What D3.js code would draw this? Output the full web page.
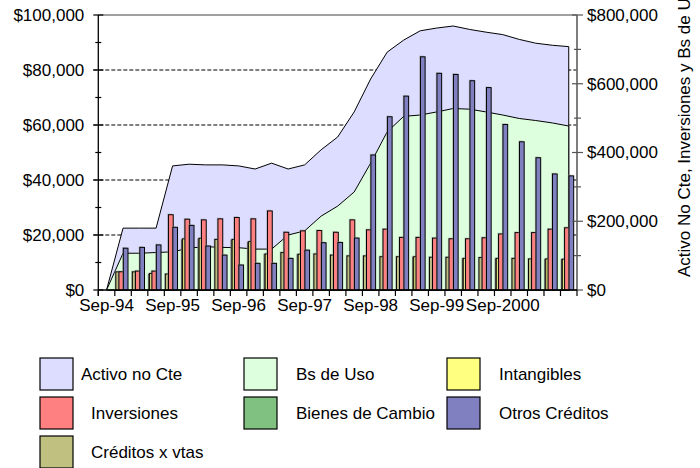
<!DOCTYPE html>
<html><head><meta charset="utf-8">
<script src="https://cdn.jsdelivr.net/npm/d3@7"></script>
<style>
body{margin:0;background:#fff;}
text{font-family:"Liberation Sans",Arial,sans-serif;fill:#000;}
</style></head>
<body><svg id="c" width="700" height="468"></svg>
<script>
const categories = ["Sep-94","Dic-94","Mar-95","Jun-95","Sep-95","Dic-95","Mar-96","Jun-96","Sep-96","Dic-96","Mar-97","Jun-97","Sep-97","Dic-97","Mar-98","Jun-98","Sep-98","Dic-98","Mar-99","Jun-99","Sep-99","Dic-99","Mar-2000","Jun-2000","Sep-2000","Dic-2000","Mar-01","Jun-01","Sep-01"];
const tickLabels = ["Sep-94","Sep-95","Sep-96","Sep-97","Sep-98","Sep-99","Sep-2000"];
// secondary axis series ($)
const activoNoCte = [0,180000,180000,180000,361000,366000,364000,364000,361000,352000,369000,352000,364000,408000,445000,518000,614000,692000,727000,754000,762000,768000,758000,750000,743000,729000,718000,712000,708000];
const bsDeUso = [0,107000,107000,109000,111000,122000,126000,124000,123000,119000,119000,160000,172000,215000,244000,285000,369000,460000,505000,509000,518000,528000,526000,518000,509000,499000,493000,486000,477000];
const inversiones = [0,53000,55000,55000,219000,206000,204000,207000,211000,207000,230000,168000,172000,173000,168000,204000,175000,177000,153000,153000,151000,149000,149000,152000,163000,167000,167000,177000,181000];
// primary axis series ($)
const creditosXVtas = [0,6600,6600,5700,5800,18200,18500,18400,18100,17300,12900,13600,12800,13100,12700,12400,12400,12100,12100,11900,11900,11900,11300,11800,11300,11500,11300,11100,11000];
const bienesDeCambio = [0,0,0,0,0,0,0,0,0,0,0,0,0,0,0,0,0,0,0,0,0,0,0,0,0,0,0,0,0];
const intangibles = [0,0,0,6000,0,18600,18800,0,18400,17600,13100,0,13000,0,0,0,0,0,0,12100,0,0,11500,0,11500,0,0,11300,11200];
const otrosCreditos = [0,15200,15500,16400,22800,23500,16000,12700,9100,9700,9700,11500,14500,17200,17300,18900,49100,63000,70500,84800,78800,78400,76100,73600,60200,53900,48100,42200,41500];
const leftTicks = [0,20000,40000,60000,80000,100000];
const rightTicks = [0,200000,400000,600000,800000];

const svg = d3.select("#c");
svg.append("rect").attr("width",700).attr("height",468).attr("fill","#fff");
const L = 98.3, R = 577, T = 15, B = 290;
const FS = "17px";
const x = d3.scaleBand().domain(categories).range([L,R]).padding(0);
const yL = d3.scaleLinear().domain([0,100000]).range([B,T]);
const yR = d3.scaleLinear().domain([0,800000]).range([B,T]);
const cx = (d,i)=> x(categories[i]) + x.bandwidth()/2;

// gridlines (behind)
svg.append("g").selectAll("line").data([20000,40000,60000,80000]).join("line")
  .attr("x1",L-5).attr("x2",R).attr("y1",d=>yL(d)).attr("y2",d=>yL(d))
  .attr("stroke","#000").attr("stroke-width",1).attr("stroke-dasharray","4,2");
// top border
svg.append("line").attr("x1",L).attr("x2",R).attr("y1",yL(100000)).attr("y2",yL(100000)).attr("stroke","#808080").attr("stroke-width",1.3);

// areas
const area = d3.area().x(cx).y0(yR(0)).y1(d=>yR(d));
svg.append("path").datum(activoNoCte).attr("d",area).attr("fill","#DDDDFF").attr("stroke","#000").attr("stroke-width",1);
svg.append("path").datum(bsDeUso).attr("d",area).attr("fill","#DDFFDD").attr("stroke","#000").attr("stroke-width",1);

// bars
const barSeries = [
  {v:creditosXVtas, y:yL, off:1.0, w:4.2, c:"#C0C080"},
  {v:bienesDeCambio, y:yL, off:1.4, w:4.0, c:"#80C080"},
  {v:intangibles, y:yL, off:1.8, w:3.6, c:"#FFFF80"},
  {v:inversiones, y:yR, off:4.1, w:4.8, c:"#FF8080"},
  {v:otrosCreditos, y:yL, off:8.5, w:4.7, c:"#8080C0"}
];
barSeries.forEach(s=>{
  const g = svg.append("g");
  const data = s.v.map((v,i)=>({v,i})).filter(d=>d.v>0);
  g.selectAll("rect.sh").data(data).join("rect").attr("class","sh")
    .attr("x",d=>x(categories[d.i])+s.off-1.2).attr("y",d=>s.y(d.v)-1.2)
    .attr("width",s.w).attr("height",d=>B-s.y(d.v)).attr("fill","#999").attr("opacity",0.5);
  g.selectAll("rect.b").data(data).join("rect").attr("class","b")
    .attr("x",d=>x(categories[d.i])+s.off).attr("y",d=>s.y(d.v))
    .attr("width",s.w).attr("height",d=>B-s.y(d.v)).attr("fill",s.c).attr("stroke","#000").attr("stroke-width",1);
});

// left axis
const la = svg.append("g").attr("transform",`translate(${L},0)`)
  .call(d3.axisLeft(yL).tickValues(leftTicks).tickSize(0).tickPadding(14).tickFormat(d3.format("$,")));
la.select(".domain").remove();
la.selectAll("text").style("font-size",FS).style("font-family","Liberation Sans, Arial");
svg.append("line").attr("x1",L).attr("x2",L).attr("y1",T).attr("y2",B+6).attr("stroke","#000").attr("stroke-width",1.3);
svg.append("g").selectAll("line").data(d3.range(0,100001,10000)).join("line")
  .attr("x1",d=>d%20000===0?L-5:L-3).attr("x2",d=>d%20000===0?L+5:L+3)
  .attr("y1",d=>yL(d)).attr("y2",d=>yL(d)).attr("stroke","#000").attr("stroke-width",1.2);

// right axis
const ra = svg.append("g").attr("transform",`translate(${R},0)`)
  .call(d3.axisRight(yR).tickValues(rightTicks).tickSize(0).tickPadding(10).tickFormat(d3.format("$,")));
ra.select(".domain").remove();
ra.selectAll("text").style("font-size",FS).style("font-family","Liberation Sans, Arial");
svg.append("line").attr("x1",R).attr("x2",R).attr("y1",T).attr("y2",B).attr("stroke","#707070").attr("stroke-width",1.8);
svg.append("g").selectAll("line").data(d3.range(0,800001,100000)).join("line")
  .attr("x1",d=>d%200000===0?R-5:R-3).attr("x2",d=>d%200000===0?R+6:R+4)
  .attr("y1",d=>yR(d)).attr("y2",d=>yR(d)).attr("stroke","#555").attr("stroke-width",1.2);

// bottom axis
const ba = svg.append("g").attr("transform",`translate(0,${B})`)
  .call(d3.axisBottom(x).tickValues(tickLabels).tickSize(0).tickPadding(9));
ba.select(".domain").remove();
ba.selectAll("text").style("font-size",FS).style("font-family","Liberation Sans, Arial");
svg.append("line").attr("x1",L).attr("x2",R).attr("y1",B).attr("y2",B).attr("stroke","#000").attr("stroke-width",1.5);
svg.append("g").selectAll("line").data(d3.range(categories.length+1)).join("line")
  .attr("x1",i=>L+i*x.step()).attr("x2",i=>L+i*x.step()).attr("y1",B).attr("y2",B+6)
  .attr("stroke","#000").attr("stroke-width",1.2);

// right title
svg.append("text").attr("transform","translate(690,277) rotate(-90)")
  .style("font-size",FS).text("Activo No Cte, Inversiones y Bs de Uso");

// legend
const legend = [
  {n:"Activo no Cte", c:"#DDDDFF", col:0,row:0, tx:81},
  {n:"Bs de Uso", c:"#DDFFDD", col:1,row:0, tx:296},
  {n:"Intangibles", c:"#FFFF80", col:2,row:0, tx:499},
  {n:"Inversiones", c:"#FF8080", col:0,row:1, tx:91},
  {n:"Bienes de Cambio", c:"#80C080", col:1,row:1, tx:296},
  {n:"Otros Créditos", c:"#8080C0", col:2,row:1, tx:499},
  {n:"Créditos x vtas", c:"#C0C080", col:0,row:2, tx:91}
];
const colX = [40,244,447], rowY = [358,397,436];
const lg = svg.append("g");
legend.forEach(d=>{
  lg.append("rect").attr("x",colX[d.col]).attr("y",rowY[d.row]).attr("width",33).attr("height",32)
    .attr("fill",d.c).attr("stroke","#000").attr("stroke-width",1.2);
  lg.append("text").attr("x",d.tx).attr("y",rowY[d.row]+16).attr("dy","0.36em")
    .style("font-size",FS).text(d.n);
});
</script></body></html>
